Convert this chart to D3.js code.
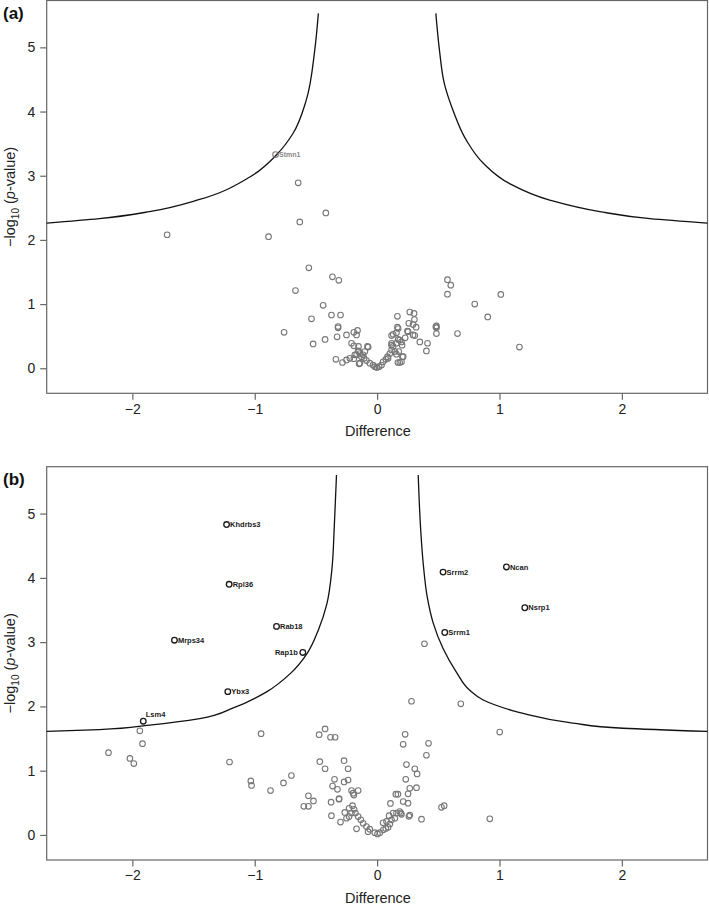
<!DOCTYPE html>
<html>
<head>
<meta charset="utf-8">
<script src="https://cdn.jsdelivr.net/npm/d3@7"></script>
<style>
body { margin: 0; background: #fff; }
svg { font-family: "Liberation Sans", Arial, sans-serif; }
.frame { fill: none; stroke: #666; stroke-width: 1.2; }
.axis path { display: none; }
.axis line { stroke: #666; stroke-width: 1.2; }
.axis text { font-size: 14px; fill: #222; }
.pt { fill: none; stroke: #777; stroke-width: 1.1; }
.pt.hit { stroke: #1a1a1a; stroke-width: 1.3; }
.lab { font-size: 7.5px; font-weight: bold; fill: #1a1a1a; }
.lab.grey { fill: #888; font-size: 7px; }
.thr { fill: none; stroke: #111; stroke-width: 1.3; }
</style>
</head>
<body>
<script>
// shared axis extents / ticks
var xTicks = [-2, -1, 0, 1, 2];
var yTicks = [0, 1, 2, 3, 4, 5];
var xDomain = [-2.7, 2.7];
var yDomain = [-0.39, 5.73];

// panel (a): threshold curve
var curveALeft = [[-2.7,2.26],[-2.27,2.33],[-1.86,2.44],[-1.45,2.63],[-1.04,2.98],[-0.82,3.33],[-0.69,3.65],[-0.58,4.17],[-0.51,4.95],[-0.48,5.53]];
var curveARight = [[0.48,5.53],[0.51,4.95],[0.55,4.43],[0.62,4.02],[0.73,3.55],[0.87,3.19],[1.08,2.88],[1.41,2.62],[1.82,2.44],[2.23,2.33],[2.7,2.26]];

// panel (a): proteins (difference, -log10 p)
var pointsA = [[-1.716,2.08],[-0.887,2.05],[-0.645,2.89],[-0.632,2.28],[-0.419,2.42],[-0.558,1.565],[-0.365,1.425],[-0.313,1.37],
  [-0.667,1.21],[-0.441,0.98],[-0.373,0.83],[-0.299,0.83],[-0.536,0.77],[-0.319,0.65],[-0.319,0.63],[-0.76,0.56],[-0.25,0.52],
  [-0.327,0.49],[-0.19,0.56],[-0.16,0.59],[-0.168,0.52],[-0.523,0.38],[-0.425,0.45],[-0.209,0.39],[-0.19,0.35],[-0.152,0.34],
  [-0.15,0.26],[-0.182,0.21],[-0.128,0.18],[-0.337,0.14],[-0.283,0.09],[-0.25,0.13],[-0.223,0.155],[-0.19,0.15],[-0.168,0.21],
  [-0.147,0.07],[-0.155,0.27],[-0.141,0.23],[-0.079,0.34],[-0.141,0.08],[-0.106,0.155],[-0.087,0.12],[-0.06,0.08],[-0.1,0.26],
  [-0.073,0.33],[-0.114,0.21],[-0.033,0.05],[-0.019,0.025],[-0.005,0.015],[0,0.015],[0.016,0.025],[0.036,0.05],[0.049,0.10],
  [0.071,0.14],[0.085,0.18],[0.09,0.155],[0.104,0.23],[0.118,0.285],[0.131,0.34],[0.145,0.26],[0.158,0.22],[0.177,0.26],
  [0.185,0.09],[0.17,0.09],[0.199,0.10],[0.207,0.18],[0.213,0.18],[0.118,0.39],[0.118,0.36],[0.158,0.39],[0.118,0.51],[0.131,0.53],
  [0.158,0.555],[0.166,0.64],[0.172,0.62],[0.172,0.45],[0.185,0.44],[0.199,0.41],[0.204,0.36],[0.229,0.475],[0.248,0.58],[0.253,0.57],
  [0.294,0.52],[0.166,0.81],[0.259,0.70],[0.267,0.875],[0.302,0.855],[0.305,0.76],[0.294,0.68],[0.319,0.64],[0.308,0.51],
  [0.349,0.41],[0.412,0.39],[0.403,0.27],[0.485,0.66],[0.485,0.63],[0.48,0.645],[0.485,0.54],[0.575,1.38],[0.602,1.295],
  [0.575,1.155],[0.657,0.54],[0.798,1.0],[0.904,0.80],[1.011,1.15],[1.163,0.33]];
var genesA = ["Stmn1"];
var genesADiff = [-0.83];
var genesALogp = [3.33];

// panel (b)
var curveBLeft = [[-2.7,1.61],[-2.27,1.64],[-1.86,1.71],[-1.45,1.81],[-1.17,1.98],[-0.9,2.23],[-0.71,2.51],[-0.57,2.83],[-0.48,3.19],[-0.41,3.6],[-0.37,4.12],[-0.35,4.79],[-0.332,5.6]];
var curveBRight = [[0.336,5.6],[0.355,4.79],[0.378,4.2],[0.41,3.7],[0.458,3.3],[0.539,2.9],[0.649,2.53],[0.757,2.25],[0.867,2.1],[1.098,1.94],[1.193,1.89],[1.6,1.74],[2.01,1.66],[2.7,1.61]];
var pointsB = [[0.387,2.975],[0.281,2.08],[0.684,2.04],[-1.939,1.62],[-1.917,1.42],[-2.195,1.28],[-2.02,1.19],[-1.988,1.11],
  [-1.206,1.135],[-0.948,1.575],[-1.032,0.84],[-1.026,0.77],[-0.871,0.69],[-0.765,0.81],[-0.70,0.925],[-0.561,0.61],[-0.599,0.445],
  [-0.561,0.445],[-0.52,0.53],[-0.474,1.56],[-0.425,1.65],[-0.381,1.52],[-0.343,1.52],[-0.468,1.14],[-0.425,1.03],[-0.27,1.155],
  [-0.237,1.03],[-0.348,0.865],[-0.237,0.855],[-0.27,0.825],[-0.364,0.76],[-0.324,0.71],[-0.209,0.69],[-0.155,0.69],[-0.19,0.62],
  [-0.196,0.65],[-0.311,0.565],[-0.311,0.555],[-0.376,0.51],[-0.373,0.30],[-0.299,0.20],[-0.264,0.35],[-0.229,0.415],[-0.201,0.455],
  [-0.188,0.40],[-0.25,0.26],[-0.229,0.285],[-0.209,0.34],[-0.177,0.34],[-0.155,0.285],[-0.133,0.235],[-0.114,0.18],[-0.087,0.13],
  [-0.06,0.09],[-0.074,0.05],[-0.168,0.095],[-0.019,0.035],[0.003,0.015],[0.022,0.035],[0.051,0.08],[0.071,0.10],[0.09,0.12],
  [0.104,0.17],[0.077,0.21],[0.049,0.19],[0.118,0.235],[0.098,0.30],[0.131,0.34],[0.158,0.34],[0.145,0.26],[0.185,0.365],
  [0.199,0.32],[0.194,0.34],[0.267,0.31],[0.26,0.29],[0.213,0.52],[0.253,0.495],[0.109,0.49],[0.153,0.635],[0.17,0.635],[0.253,0.64],
  [0.267,0.725],[0.322,0.735],[0.234,0.865],[0.327,0.95],[0.308,1.03],[0.24,1.095],[0.403,1.24],[0.363,0.245],[0.526,0.43],
  [0.548,0.455],[0.229,1.565],[0.213,1.41],[0.42,1.425],[1.002,1.60],[0.921,0.25]];
var genesB = ["Khdrbs3","Rpl36","Rab18","Mrps34","Rap1b","Ybx3","Lsm4","Srrm2","Ncan","Nsrp1","Srrm1"];
var genesBDiff = [-1.23,-1.209,-0.822,-1.656,-0.607,-1.22,-1.911,0.539,1.057,1.207,0.553];
var genesBLogp = [4.83,3.90,3.245,3.03,2.84,2.23,1.77,4.09,4.17,3.535,3.15];

var W = 709, H = 906;
var svg = d3.select("body").append("svg").attr("width", W).attr("height", H);

function panel(tag, top, bottom, curves, pts, names, dx, dy, grey) {
	var left = 46.7, right = 707.5;
	var x = d3.scaleLinear().domain(xDomain).range([left, right]);
	var y = d3.scaleLinear().domain(yDomain).range([bottom, top]);
	var g = svg.append("g");

	g.append("g").attr("class", "axis")
		.attr("transform", "translate(0," + bottom + ")")
		.call(d3.axisBottom(x).tickValues(xTicks).tickSize(6.5).tickPadding(4).tickFormat(d3.format("d")));
	g.append("g").attr("class", "axis")
		.attr("transform", "translate(" + left + ",0)")
		.call(d3.axisLeft(y).tickValues(yTicks).tickSize(6.5).tickPadding(5).tickFormat(d3.format("d")));

	g.append("rect").attr("class", "frame")
		.attr("x", left).attr("y", top).attr("width", right - left).attr("height", bottom - top);

	g.append("text").attr("x", 378).attr("y", bottom + 43)
		.attr("text-anchor", "middle").style("font-size", "14.5px").attr("fill", "#222").text("Difference");

	var yl = g.append("text")
		.attr("transform", "translate(15," + ((top + bottom) / 2) + ") rotate(-90)")
		.attr("text-anchor", "middle").style("font-size", "14.5px").attr("fill", "#222");
	yl.append("tspan").text("\u2212log");
	yl.append("tspan").attr("dy", 4).style("font-size", "10px").text("10");
	yl.append("tspan").attr("dy", -4).text(" (");
	yl.append("tspan").style("font-style", "italic").text("p");
	yl.append("tspan").text("-value)");

	svg.append("text").attr("x", 3).attr("y", top + 18)
		.style("font-size", "17px").style("font-weight", "bold").attr("fill", "#111").text(tag);

	var line = d3.line().x(function(d){ return x(d[0]); }).y(function(d){ return y(d[1]); }).curve(d3.curveMonotoneY);
	curves.forEach(function(c){
		g.append("path").attr("class", "thr").attr("d", line(c));
	});

	g.selectAll("circle.bg").data(pts).enter().append("circle")
		.attr("class", "pt")
		.attr("cx", function(d){ return x(d[0]); })
		.attr("cy", function(d){ return y(d[1]); })
		.attr("r", 2.8);

	names.forEach(function(n, i){
		var cx = x(dx[i]), cy = y(dy[i]);
		g.append("circle").attr("class", grey ? "pt" : "pt hit").attr("cx", cx).attr("cy", cy).attr("r", 2.8);
		var t = g.append("text").attr("class", grey ? "lab grey" : "lab").text(n);
		if (n == "Rap1b") {
			t.attr("x", cx - 5).attr("y", cy + 2.6).attr("text-anchor", "end");
		} else if (n == "Lsm4") {
			t.attr("x", cx + 2.5).attr("y", cy - 3.8);
		} else {
			t.attr("x", cx + 3.5).attr("y", cy + 2.6);
		}
	});
}

panel("(a)", 0.5, 393.3, [curveALeft, curveARight], pointsA, genesA, genesADiff, genesALogp, true);
panel("(b)", 466.7, 860, [curveBLeft, curveBRight], pointsB, genesB, genesBDiff, genesBLogp, false);
</script>
</body>
</html>
